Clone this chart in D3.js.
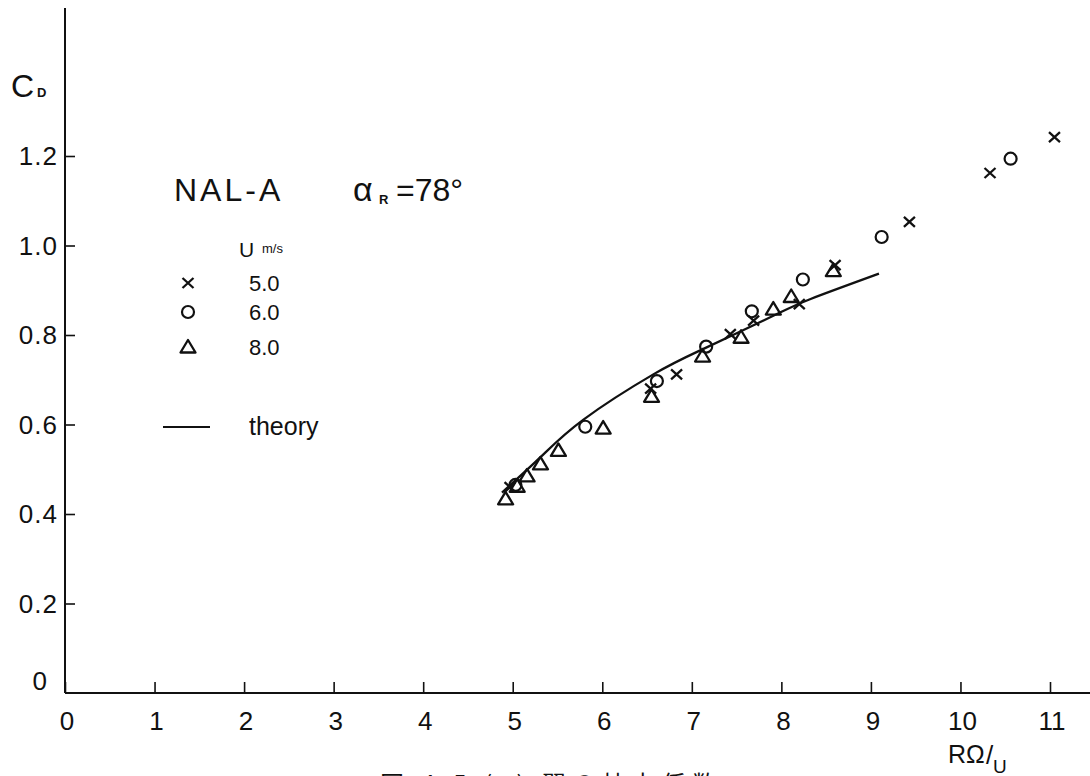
<!DOCTYPE html>
<html lang="ja">
<head>
  <meta charset="UTF-8">
  <title>NAL-A drag coefficient</title>
  <script src="https://d3js.org/d3.v7.min.js"></script>
  <style>
    html, body { margin: 0; padding: 0; background: #fff; }
    svg text { font-family: "Liberation Sans", "DejaVu Sans", sans-serif; fill: #111; }
    .cjk { font-family: "Noto Sans CJK JP", sans-serif; }
  </style>
</head>
<body>
  <svg id="chart" width="1090" height="776"></svg>

  <script>
    // tip speed ratio R*Omega/U vs drag coefficient
    const xTicks = [0, 1, 2, 3, 4, 5, 6, 7, 8, 9, 10, 11];
    const yTicks = [0, 0.2, 0.4, 0.6, 0.8, 1.0, 1.2];

    const crossX = [4.97, 6.54, 6.83, 7.43, 7.69, 8.20, 8.60, 9.43, 10.33, 11.05];
    const crossY = [0.460, 0.680, 0.712, 0.802, 0.832, 0.869, 0.956, 1.053, 1.162, 1.242];

    const circleX = [5.03, 5.81, 6.61, 7.16, 7.67, 8.24, 9.12, 10.56];
    const circleY = [0.465, 0.595, 0.697, 0.774, 0.853, 0.924, 1.019, 1.194];

    const triX = [4.92, 5.05, 5.16, 5.31, 5.51, 6.01, 6.55, 7.12, 7.55, 7.91, 8.11, 8.58];
    const triY = [0.434, 0.462, 0.485, 0.512, 0.542, 0.592, 0.663, 0.753, 0.795, 0.858, 0.886, 0.944];

    const theoryX = [4.88, 5.31, 5.79, 6.57, 7.13, 7.91, 8.32, 9.09];
    const theoryY = [0.448, 0.527, 0.611, 0.712, 0.769, 0.843, 0.880, 0.937];

    const legendLabels = ["5.0", "6.0", "8.0"];

    const svg = d3.select("#chart");

    const x = d3.scaleLinear().domain([0, 11]).range([65, 1050]);
    const y = d3.scaleLinear().domain([0, 1.2]).range([693, 156]);

    const zip = (xs, ys) => xs.map((v, i) => [v, ys[i]]);

    // axes lines
    svg.append("line")
      .attr("x1", x(0)).attr("x2", 1090)
      .attr("y1", y(0)).attr("y2", y(0))
      .attr("stroke", "#111").attr("stroke-width", 2);
    svg.append("line")
      .attr("x1", x(0)).attr("x2", x(0))
      .attr("y1", y(0)).attr("y2", 8)
      .attr("stroke", "#111").attr("stroke-width", 2);

    // x axis: ticks pointing up, labels below
    const xAxis = svg.append("g")
      .attr("transform", `translate(0,${y(0)})`)
      .call(d3.axisTop(x).tickValues(xTicks).tickSize(11).tickFormat(""));
    xAxis.select(".domain").remove();
    xAxis.selectAll(".tick line").attr("stroke", "#111").attr("stroke-width", 1.6);

    svg.append("g").selectAll("text")
      .data(xTicks)
      .enter().append("text")
      .attr("x", d => x(d) + 2)
      .attr("y", y(0) + 37)
      .attr("text-anchor", "middle")
      .attr("font-size", 26)
      .text(d => d);

    // y axis: ticks pointing right, labels left
    const yAxis = svg.append("g")
      .attr("transform", `translate(${x(0)},0)`)
      .call(d3.axisRight(y).tickValues(yTicks.filter(d => d > 0)).tickSize(10).tickFormat(""));
    yAxis.select(".domain").remove();
    yAxis.selectAll(".tick line").attr("stroke", "#111").attr("stroke-width", 1.6);

    svg.append("g").selectAll("text")
      .data(yTicks)
      .enter().append("text")
      .attr("x", d => d === 0 ? 48 : 58)
      .attr("y", d => d === 0 ? y(d) - 3 : y(d) + 9)
      .attr("text-anchor", "end")
      .attr("font-size", 26)
      .attr("letter-spacing", 1)
      .text(d => d === 0 ? "0" : d.toFixed(1));

    // axis titles
    svg.append("text").attr("x", 11).attr("y", 97).attr("font-size", 32).text("C");
    svg.append("text").attr("x", 37).attr("y", 97).attr("font-size", 13).attr("font-weight", "bold").text("D");

    svg.append("text").attr("x", 948).attr("y", 763).attr("font-size", 25).text("RΩ");
    svg.append("text").attr("x", 986).attr("y", 764).attr("font-size", 26).text("/");
    svg.append("text").attr("x", 993).attr("y", 773).attr("font-size", 19).text("U");

    // caption (mostly cut off at the bottom edge)
    svg.append("text").attr("class", "cjk")
      .attr("x", 380).attr("y", 793).attr("font-size", 24)
      .attr("letter-spacing", 6)
      .text("図 4.5 (c) 翼の抗力係数");

    // annotation
    svg.append("text").attr("x", 174).attr("y", 201).attr("font-size", 32)
      .attr("letter-spacing", 3).text("NAL-A");
    svg.append("text").attr("x", 353).attr("y", 201).attr("font-size", 34).text("α");
    svg.append("text").attr("x", 379).attr("y", 204).attr("font-size", 13).attr("font-weight", "bold").text("R");
    svg.append("text").attr("x", 396).attr("y", 201).attr("font-size", 32).text("=78°");

    // legend
    svg.append("text").attr("x", 239).attr("y", 257).attr("font-size", 21).text("U");
    svg.append("text").attr("x", 262).attr("y", 253).attr("font-size", 13).text("m/s");

    const legendY = [283, 312, 347];
    legendLabels.forEach((t, i) => {
      svg.append("text").attr("x", 249).attr("y", legendY[i] + 8).attr("font-size", 22).text(t);
    });

    svg.append("line")
      .attr("x1", 163).attr("x2", 210).attr("y1", 427).attr("y2", 427)
      .attr("stroke", "#111").attr("stroke-width", 2);
    svg.append("text").attr("x", 249).attr("y", 435).attr("font-size", 25).text("theory");

    // marker helpers
    function drawCross(sel) {
      sel.append("path")
        .attr("d", "M-5.5,-5 L5.5,5 M-5.5,5 L5.5,-5")
        .attr("stroke", "#111").attr("stroke-width", 2.3).attr("fill", "none");
    }
    function drawCircle(sel) {
      sel.append("circle").attr("r", 6)
        .attr("stroke", "#111").attr("stroke-width", 2.2).attr("fill", "none");
    }
    function drawTri(sel) {
      sel.append("path")
        .attr("d", "M0,-7 L7.5,5.5 L-7.5,5.5 Z")
        .attr("stroke", "#111").attr("stroke-width", 2.3).attr("fill", "none")
        .attr("stroke-linejoin", "round");
    }

    // legend markers
    drawCross(svg.append("g").attr("transform", `translate(188,${legendY[0]})`));
    drawCircle(svg.append("g").attr("transform", `translate(188,${legendY[1]})`));
    drawTri(svg.append("g").attr("transform", `translate(188,${legendY[2]})`));

    // theory curve
    const line = d3.line()
      .x(d => x(d[0]))
      .y(d => y(d[1]))
      .curve(d3.curveNatural);

    svg.append("path")
      .datum(zip(theoryX, theoryY))
      .attr("d", line)
      .attr("fill", "none")
      .attr("stroke", "#111")
      .attr("stroke-width", 2.3);

    // data points
    svg.append("g").selectAll("g")
      .data(zip(triX, triY))
      .enter().append("g")
      .attr("transform", d => `translate(${x(d[0])},${y(d[1])})`)
      .each(function() { drawTri(d3.select(this)); });

    svg.append("g").selectAll("g")
      .data(zip(circleX, circleY))
      .enter().append("g")
      .attr("transform", d => `translate(${x(d[0])},${y(d[1])})`)
      .each(function() { drawCircle(d3.select(this)); });

    svg.append("g").selectAll("g")
      .data(zip(crossX, crossY))
      .enter().append("g")
      .attr("transform", d => `translate(${x(d[0])},${y(d[1])})`)
      .each(function() { drawCross(d3.select(this)); });
  </script>
</body>
</html>
